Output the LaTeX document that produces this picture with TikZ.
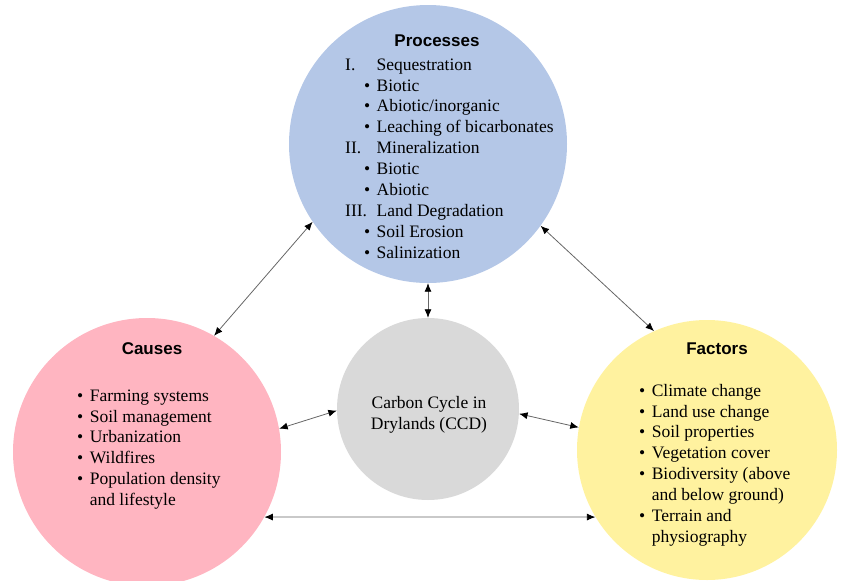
\documentclass[tikz,border=0pt]{standalone}
\usepackage{fontspec}
\setmainfont{Liberation Serif}
\setsansfont{Liberation Sans}
\usetikzlibrary{arrows.meta}

\definecolor{procblue}{HTML}{B4C7E7}
\definecolor{causepink}{HTML}{FFB5C1}
\definecolor{factyellow}{HTML}{FFF29F}
\definecolor{ccdgray}{HTML}{D9D9D9}

\newcommand{\bul}{\makebox[31.5pt][r]{\textbullet\hspace{6.5pt}}}
\newcommand{\rnum}[1]{\makebox[31.5pt][l]{#1}}

\begin{document}
\begin{tikzpicture}[x=1pt,y=-1pt,
		big circle/.style={circle,inner sep=0pt,draw=none},
		heading/.style={font=\sffamily\bfseries\fontsize{17}{20}\selectfont,inner sep=0pt},
		list/.style={font=\fontsize{17.5}{20.9}\selectfont,inner sep=0pt,anchor=north west},
		link/.style={{Latex[length=8.5pt,width=7pt,color=black]}-{Latex[length=8.5pt,width=7pt,color=black]},
			draw=black!60,line width=0.8pt}]

		\useasboundingbox (0,0) rectangle (844,581);
		\clip (0,0) rectangle (844,581);

		% circles
		\node[big circle,fill=procblue,minimum size=278pt] (proc) at (428,144) {};
		\node[big circle,fill=causepink,minimum size=268pt] (causes) at (147,452) {};
		\node[big circle,fill=ccdgray,minimum size=182pt] (ccd) at (428,409) {};
		\node[big circle,fill=factyellow,minimum size=260pt] (factors) at (707,450) {};

		% links
		\draw[link] (proc.214) -- (causes.60);
		\draw[link] (proc.324) -- (factors.114);
		\draw[link] (proc.south) -- (ccd.north);
		\draw[link] (causes.10) -- (ccd.181);
		\draw[link] (ccd.357) -- (factors.170);
		\draw[link] (causes.331) -- (factors.211);

		% texts
		\node[heading] (proc title) at (437,41) {Processes};
		\node[list] (proc list) at (345,55.3) {\begin{tabular}{@{}l@{}l@{}}
				\rnum{I.} & Sequestration\\
				\bul & Biotic\\
				\bul & Abiotic/inorganic\\
				\bul & Leaching of bicarbonates\\
				\rnum{II.} & Mineralization\\
				\bul & Biotic\\
				\bul & Abiotic\\
				\rnum{III.} & Land Degradation\\
				\bul & Soil Erosion\\
				\bul & Salinization
			\end{tabular}};

		\node[heading] (causes title) at (152,349) {Causes};
		\node[list] (causes list) at (77,386.3) {\begin{tabular}{@{}l@{\hspace{6.5pt}}l@{}}
				\textbullet & Farming systems\\
				\textbullet & Soil management\\
				\textbullet & Urbanization\\
				\textbullet & Wildfires\\
				\textbullet & Population density\\
				& and lifestyle
			\end{tabular}};

		\node[heading] (factors title) at (717,349) {Factors};
		\node[list] (factors list) at (639,381.3) {\begin{tabular}{@{}l@{\hspace{6.5pt}}l@{}}
				\textbullet & Climate change\\
				\textbullet & Land use change\\
				\textbullet & Soil properties\\
				\textbullet & Vegetation cover\\
				\textbullet & Biodiversity (above\\
				& and below ground)\\
				\textbullet & Terrain and\\
				& physiography
			\end{tabular}};

		\node[font=\fontsize{17.5}{21}\selectfont,align=center,inner sep=0pt] (ccd text) at (429,414.5)
			{Carbon Cycle in\\Drylands (CCD)};
	\end{tikzpicture}
\end{document}
